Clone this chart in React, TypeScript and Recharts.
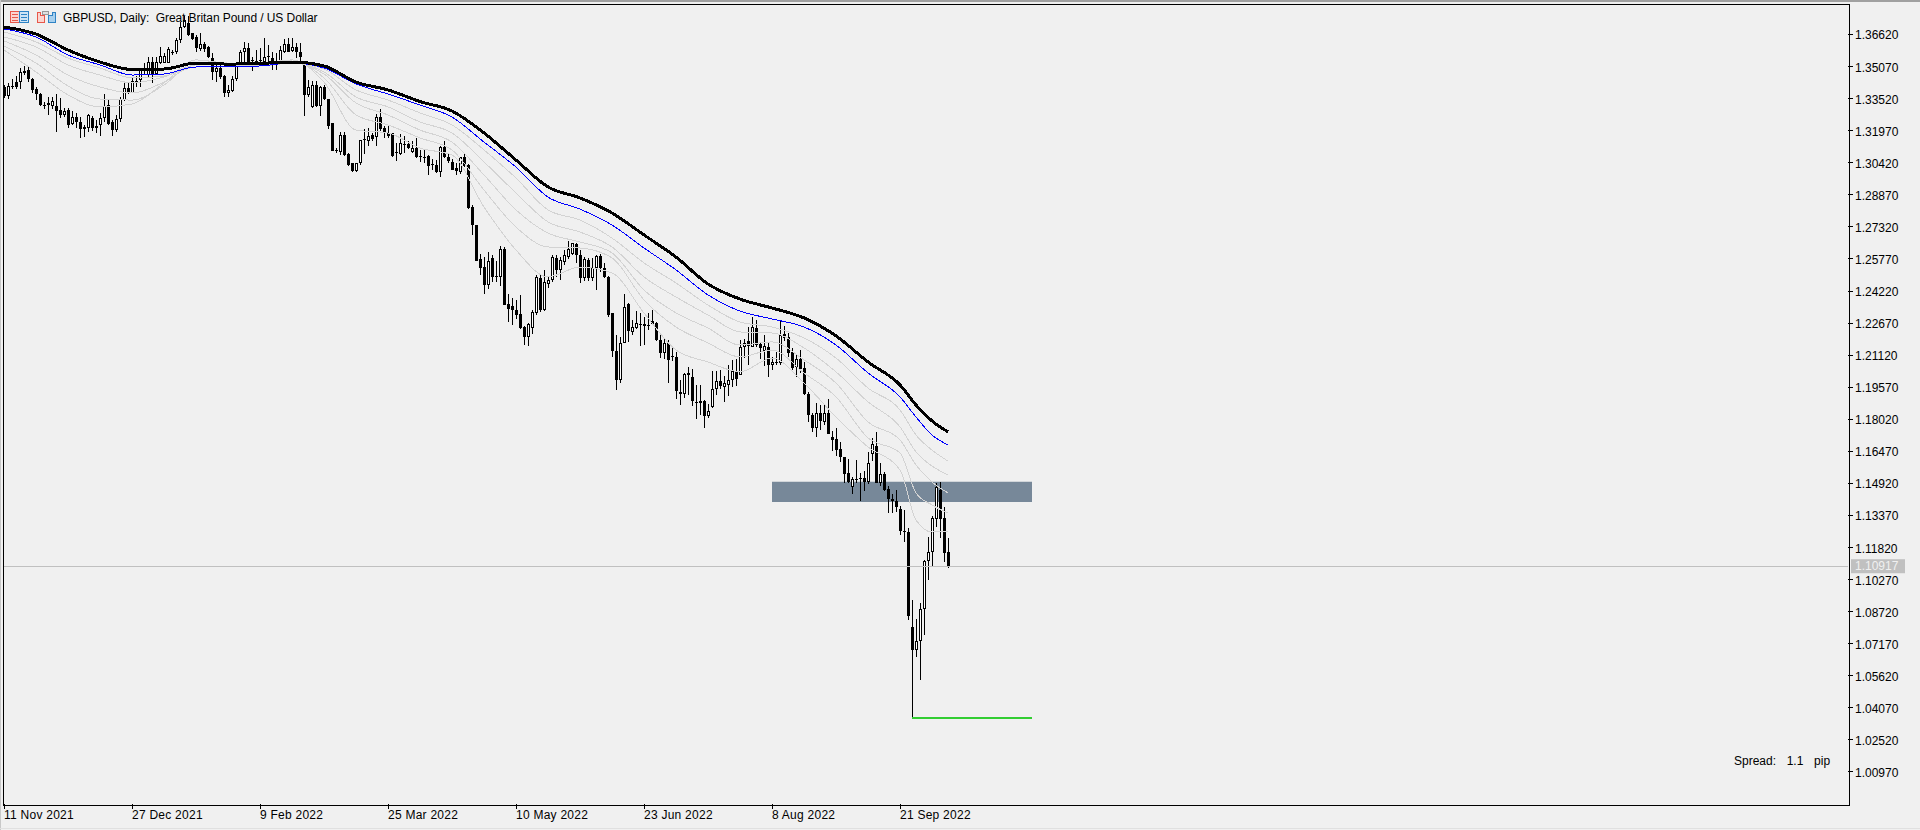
import React from "react";
import {
  ComposedChart,
  Bar,
  Line,
  XAxis,
  YAxis,
  ReferenceArea,
  ReferenceLine,
} from "recharts";

// Daily GBPUSD candles
const opens = [
  1.3407,1.3365,1.3410,1.3430,1.3430,1.3484,1.3488,1.3445,1.3397,1.3375,
  1.3323,1.3320,1.3317,1.3317,1.3298,1.3274,1.3298,1.3230,1.3262,1.3237,
  1.3204,1.3209,1.3258,1.3209,1.3224,1.3258,1.3320,1.3241,1.3201,1.3253,
  1.3346,1.3402,1.3381,1.3430,1.3443,1.3491,1.3467,1.3530,1.3472,1.3523,
  1.3526,1.3526,1.3575,1.3575,1.3633,1.3700,1.3716,1.3668,1.3649,1.3594,
  1.3616,1.3600,1.3547,1.3483,1.3499,1.3462,1.3378,1.3391,1.3446,1.3515,
  1.3576,1.3596,1.3536,1.3534,1.3536,1.3531,1.3555,1.3547,1.3531,1.3531,
  1.3578,1.3616,1.3584,1.3600,1.3579,1.3515,1.3370,1.3311,1.3418,1.3317,
  1.3410,1.3352,1.3233,1.3101,1.3092,1.3177,1.3085,1.3040,1.3000,1.3040,
  1.3154,1.3145,1.3177,1.3166,1.3265,1.3209,1.3188,1.3188,1.3091,1.3085,
  1.3133,1.3133,1.3092,1.3113,1.3072,1.3072,1.3076,1.3032,1.3032,1.2995,
  1.3117,1.3072,1.3048,1.3016,1.2995,1.3072,1.3032,1.2827,1.2742,1.2576,
  1.2537,1.2452,1.2581,1.2492,1.2492,1.2624,1.2360,1.2350,1.2331,1.2312,
  1.2247,1.2199,1.2243,1.2315,1.2486,1.2331,1.2457,1.2473,1.2581,1.2524,
  1.2560,1.2586,1.2602,1.2650,1.2598,1.2483,1.2573,1.2486,1.2531,1.2592,
  1.2531,1.2492,1.2315,1.2130,1.1993,1.2173,1.2360,1.2222,1.2244,1.2263,
  1.2263,1.2251,1.2276,1.2267,1.2186,1.2122,1.2170,1.2109,1.2103,1.1934,
  1.1922,1.2025,1.2005,1.1885,1.1889,1.1889,1.1820,1.1860,1.1947,1.1986,
  1.1960,1.1970,1.1992,1.2037,1.2018,1.2153,1.2182,1.2153,1.2242,1.2164,
  1.2134,1.2153,1.2066,1.2075,1.2073,1.2214,1.2198,1.2126,1.2053,1.2092,
  1.2048,1.1923,1.1823,1.1762,1.1831,1.1791,1.1831,1.1718,1.1706,1.1657,
  1.1619,1.1541,1.1474,1.1513,1.1515,1.1517,1.1500,1.1635,1.1675,1.1493,
  1.1538,1.1464,1.1416,1.1409,1.1367,1.1263,1.1256,1.0798,1.0685,1.0728,
  1.0884,1.1116,1.1160,1.1321,1.1461,1.1324,1.1160,
];

const highs = [
  1.3418,1.3426,1.3446,1.3459,1.3499,1.3510,1.3510,1.3452,1.3407,1.3378,
  1.3338,1.3359,1.3362,1.3375,1.3354,1.3306,1.3306,1.3290,1.3282,1.3262,
  1.3225,1.3278,1.3266,1.3249,1.3282,1.3375,1.3346,1.3249,1.3274,1.3362,
  1.3435,1.3426,1.3451,1.3462,1.3499,1.3523,1.3555,1.3555,1.3555,1.3600,
  1.3571,1.3600,1.3587,1.3644,1.3724,1.3749,1.3749,1.3671,1.3660,1.3668,
  1.3628,1.3604,1.3571,1.3515,1.3515,1.3467,1.3418,1.3462,1.3526,1.3587,
  1.3628,1.3620,1.3555,1.3587,1.3596,1.3644,1.3612,1.3579,1.3571,1.3604,
  1.3639,1.3644,1.3644,1.3620,1.3620,1.3515,1.3443,1.3435,1.3435,1.3414,
  1.3418,1.3352,1.3233,1.3113,1.3193,1.3193,1.3088,1.3040,1.3040,1.3153,
  1.3204,1.3209,1.3185,1.3278,1.3301,1.3220,1.3220,1.3188,1.3137,1.3182,
  1.3172,1.3145,1.3145,1.3161,1.3104,1.3104,1.3080,1.3059,1.3056,1.3121,
  1.3145,1.3085,1.3059,1.3040,1.3072,1.3091,1.3035,1.2838,1.2742,1.2602,
  1.2586,1.2613,1.2597,1.2569,1.2640,1.2637,1.2409,1.2388,1.2380,1.2404,
  1.2254,1.2267,1.2331,1.2500,1.2505,1.2524,1.2495,1.2597,1.2597,1.2586,
  1.2621,1.2666,1.2656,1.2656,1.2618,1.2586,1.2581,1.2581,1.2597,1.2602,
  1.2557,1.2495,1.2318,1.2210,1.2202,1.2407,1.2363,1.2283,1.2323,1.2315,
  1.2296,1.2315,1.2331,1.2270,1.2215,1.2194,1.2186,1.2154,1.2125,1.1992,
  1.2028,1.2054,1.2044,1.1968,1.1968,1.1896,1.1876,1.2033,1.2037,1.2040,
  1.2011,1.2065,1.2089,1.2092,1.2185,1.2189,1.2246,1.2295,1.2282,1.2177,
  1.2209,1.2169,1.2105,1.2129,1.2279,1.2253,1.2218,1.2148,1.2118,1.2137,
  1.2081,1.1936,1.1831,1.1879,1.1871,1.1871,1.1899,1.1743,1.1759,1.1694,
  1.1622,1.1609,1.1525,1.1606,1.1541,1.1553,1.1646,1.1710,1.1739,1.1590,
  1.1549,1.1480,1.1441,1.1461,1.1384,1.1364,1.1276,1.0929,1.0838,1.0913,
  1.1123,1.1232,1.1335,1.1493,1.1498,1.1380,1.1227,
];

const lows = [
  1.3354,1.3349,1.3397,1.3397,1.3397,1.3467,1.3435,1.3378,1.3343,1.3314,
  1.3306,1.3274,1.3306,1.3193,1.3258,1.3262,1.3209,1.3220,1.3209,1.3161,
  1.3169,1.3193,1.3193,1.3188,1.3169,1.3241,1.3225,1.3172,1.3193,1.3241,
  1.3338,1.3375,1.3378,1.3407,1.3407,1.3467,1.3459,1.3430,1.3467,1.3520,
  1.3523,1.3523,1.3563,1.3568,1.3623,1.3692,1.3652,1.3636,1.3579,1.3579,
  1.3579,1.3547,1.3439,1.3435,1.3446,1.3359,1.3359,1.3386,1.3439,1.3510,
  1.3531,1.3515,1.3488,1.3523,1.3523,1.3523,1.3526,1.3491,1.3488,1.3526,
  1.3571,1.3575,1.3575,1.3547,1.3531,1.3270,1.3362,1.3306,1.3311,1.3270,
  1.3346,1.3209,1.3101,1.3088,1.3080,1.3078,1.3027,1.2998,1.2998,1.3032,
  1.3085,1.3121,1.3145,1.3121,1.3193,1.3161,1.3161,1.3072,1.3048,1.3080,
  1.3092,1.3104,1.3085,1.3064,1.3048,1.3040,1.2984,1.3008,1.2992,1.2972,
  1.3064,1.3040,1.3005,1.2984,1.2992,1.3024,1.2819,1.2693,1.2569,1.2500,
  1.2409,1.2436,1.2468,1.2468,1.2447,1.2355,1.2275,1.2259,1.2286,1.2238,
  1.2162,1.2154,1.2215,1.2307,1.2323,1.2328,1.2436,1.2468,1.2492,1.2476,
  1.2549,1.2581,1.2597,1.2557,1.2457,1.2468,1.2468,1.2468,1.2428,1.2516,
  1.2484,1.2299,1.2106,1.1945,1.1980,1.2170,1.2173,1.2210,1.2235,1.2157,
  1.2162,1.2235,1.2259,1.2178,1.2098,1.2093,1.1977,1.2082,1.1896,1.1872,
  1.1909,1.1920,1.1864,1.1806,1.1823,1.1759,1.1806,1.1856,1.1920,1.1947,
  1.1887,1.1915,1.1960,1.1960,1.2016,1.2097,1.2060,1.2150,1.2153,1.2097,
  1.2060,1.2003,1.2044,1.2065,1.2065,1.2182,1.2102,1.2044,1.2008,1.2024,
  1.1920,1.1791,1.1738,1.1714,1.1751,1.1775,1.1731,1.1646,1.1622,1.1598,
  1.1496,1.1493,1.1441,1.1493,1.1404,1.1458,1.1493,1.1598,1.1493,1.1477,
  1.1458,1.1348,1.1351,1.1356,1.1243,1.1211,1.0833,1.0358,1.0653,1.0540,
  1.0760,1.1023,1.1087,1.1280,1.1227,1.1115,1.1084,
];

const closes = [
  1.3365,1.3414,1.3412,1.3407,1.3480,1.3478,1.3446,1.3394,1.3372,1.3322,
  1.3318,1.3330,1.3341,1.3291,1.3274,1.3294,1.3225,1.3262,1.3237,1.3204,
  1.3217,1.3272,1.3209,1.3220,1.3258,1.3317,1.3230,1.3201,1.3253,1.3349,
  1.3402,1.3381,1.3435,1.3436,1.3494,1.3499,1.3530,1.3472,1.3531,1.3559,
  1.3559,1.3591,1.3577,1.3636,1.3697,1.3732,1.3660,1.3639,1.3596,1.3616,
  1.3591,1.3555,1.3483,1.3502,1.3456,1.3381,1.3394,1.3446,1.3523,1.3579,
  1.3596,1.3523,1.3538,1.3533,1.3538,1.3555,1.3557,1.3531,1.3533,1.3587,
  1.3616,1.3579,1.3600,1.3576,1.3552,1.3370,1.3407,1.3418,1.3314,1.3407,
  1.3349,1.3220,1.3101,1.3103,1.3177,1.3080,1.3032,1.3000,1.3040,1.3153,
  1.3156,1.3172,1.3156,1.3265,1.3204,1.3185,1.3172,1.3075,1.3093,1.3137,
  1.3135,1.3113,1.3113,1.3069,1.3073,1.3071,1.3024,1.3034,1.2995,1.3116,
  1.3069,1.3050,1.3008,1.3000,1.3069,1.3027,1.2825,1.2739,1.2569,1.2534,
  1.2449,1.2566,1.2492,1.2494,1.2624,1.2355,1.2334,1.2328,1.2307,1.2243,
  1.2199,1.2262,1.2320,1.2492,1.2331,1.2465,1.2476,1.2586,1.2524,1.2573,
  1.2598,1.2624,1.2653,1.2598,1.2483,1.2578,1.2486,1.2532,1.2589,1.2532,
  1.2489,1.2307,1.2130,1.1993,1.2173,1.2347,1.2227,1.2247,1.2267,1.2264,
  1.2251,1.2260,1.2263,1.2183,1.2122,1.2173,1.2090,1.2103,1.1941,1.1922,
  1.2021,1.2017,1.1888,1.1887,1.1883,1.1820,1.1841,1.1947,1.1986,1.1963,
  1.1976,1.1992,1.2037,1.1995,1.2153,1.2172,1.2156,1.2246,1.2161,1.2148,
  1.2156,1.2065,1.2079,1.2077,1.2208,1.2193,1.2124,1.2048,1.2092,1.2047,
  1.1924,1.1823,1.1762,1.1831,1.1796,1.1831,1.1733,1.1702,1.1654,1.1619,
  1.1538,1.1498,1.1512,1.1515,1.1516,1.1501,1.1590,1.1681,1.1493,1.1538,
  1.1461,1.1417,1.1409,1.1380,1.1260,1.1255,1.0849,1.0685,1.0730,1.0884,
  1.1116,1.1160,1.1324,1.1474,1.1321,1.1158,1.10917,
];

// moving averages, read every 8th bar (a little tighter at the end)
const maBars = [
  0,8,16,24,32,40,48,56,64,72,80,88,96,104,112,120,128,136,144,152,160,168,176,184,192,200,208,216,224,228,232,236,
];
const maBlack = [
  1.3698,1.3664,1.3587,1.3529,1.3493,1.3495,1.3524,1.3519,1.3522,1.3529,1.3510,1.3432,1.3394,1.3338,1.3292,1.3186,
  1.3055,1.2925,1.2872,1.2799,1.2693,1.2586,1.2456,1.2383,1.2340,1.2292,1.2205,1.2079,1.1968,1.1871,1.1794,1.1741,
];
const maBlue = [
  1.3689,1.3650,1.3563,1.3515,1.3466,1.3471,1.3505,1.3505,1.3510,1.3524,1.3500,1.3423,1.3374,1.3321,1.3263,1.3142,
  1.3021,1.2876,1.2818,1.2741,1.2630,1.2524,1.2403,1.2325,1.2287,1.2248,1.2161,1.2026,1.1910,1.1813,1.1726,1.1678,
];
const maGrey1 = [
  1.3674,1.3626,1.3548,1.3500,1.3452,1.3461,1.3505,1.3510,1.3510,1.3524,1.3495,1.3394,1.3345,1.3283,1.3225,1.3104,
  1.2968,1.2814,1.2765,1.2678,1.2558,1.2461,1.2354,1.2272,1.2248,1.2195,1.2098,1.1953,1.1847,1.1726,1.1653,1.1600,
];
const maGrey2 = [
  1.3650,1.3602,1.3515,1.3466,1.3428,1.3457,1.3515,1.3515,1.3515,1.3524,1.3481,1.3360,1.3312,1.3239,1.3186,1.3046,
  1.2896,1.2756,1.2707,1.2635,1.2490,1.2393,1.2306,1.2224,1.2219,1.2147,1.2031,1.1886,1.1765,1.1644,1.1576,1.1533,
];
const maGrey3 = [
  1.3631,1.3563,1.3466,1.3408,1.3379,1.3432,1.3515,1.3519,1.3519,1.3529,1.3471,1.3331,1.3273,1.3200,1.3142,1.2983,
  1.2814,1.2702,1.2659,1.2606,1.2427,1.2316,1.2243,1.2161,1.2176,1.2089,1.1977,1.1789,1.1702,1.1581,1.1499,1.1446,
];
const maGrey4 = [
  1.3606,1.3524,1.3413,1.3350,1.3345,1.3418,1.3529,1.3524,1.3524,1.3534,1.3452,1.3273,1.3225,1.3162,1.3104,1.2910,
  1.2731,1.2635,1.2630,1.2582,1.2379,1.2248,1.2171,1.2103,1.2137,1.2026,1.1910,1.1712,1.1639,1.1446,1.1388,1.1349,
];
const maGrey5 = [
  1.3587,1.3481,1.3370,1.3312,1.3326,1.3428,1.3539,1.3524,1.3524,1.3539,1.3432,1.3200,1.3186,1.3113,1.3079,1.2828,
  1.2620,1.2490,1.2538,1.2509,1.2316,1.2137,1.2079,1.2031,1.2098,1.1977,1.1813,1.1668,1.1557,1.1315,1.1257,1.1262,
];

const priceTicks = [
  1.0097,1.0252,1.0407,1.0562,1.0717,1.0872,1.1027,1.1182,1.1337,1.1492,1.1647,1.1802,
  1.1957,1.2112,1.2267,1.2422,1.2577,1.2732,1.2887,1.3042,1.3197,1.3352,1.3507,1.3662,
];
const dateTicks = [0, 32, 64, 96, 128, 160, 192, 224];
const dateLabels = [
  "11 Nov 2021", "27 Dec 2021", "9 Feb 2022", "25 Mar 2022",
  "10 May 2022", "23 Jun 2022", "8 Aug 2022", "21 Sep 2022",
];

const lastPrice = 1.10917;
const lowPrice = 1.0358;
const zoneTop = 1.15;
const zoneBottom = 1.1402;
const priceMin = 0.99423;
const priceMax = 1.38094;
const slotCount = 461;

const rows = opens.map((open, i) => {
  const m = maBars.indexOf(i);
  return {
    i,
    open,
    high: highs[i],
    low: lows[i],
    close: closes[i],
    range: [lows[i], highs[i]],
    black: m >= 0 ? maBlack[m] : null,
    blue: m >= 0 ? maBlue[m] : null,
    grey1: m >= 0 ? maGrey1[m] : null,
    grey2: m >= 0 ? maGrey2[m] : null,
    grey3: m >= 0 ? maGrey3[m] : null,
    grey4: m >= 0 ? maGrey4[m] : null,
    grey5: m >= 0 ? maGrey5[m] : null,
  };
});

const FONT = '"Liberation Sans", Arial, sans-serif';
const GREY_LINES = ["grey5", "grey4", "grey3", "grey2", "grey1"];

// wick + body, worked out from the low-high range the Bar already scaled
const Candle = (props: any) => {
  const { x, y, width, height, payload } = props;
  if (!payload || !height) return null;
  const cx = Math.round(x + width / 2);
  const perUnit = height / (payload.high - payload.low);
  const toY = (p: number) => y + (payload.high - p) * perUnit;
  const top = Math.round(toY(Math.max(payload.open, payload.close)));
  const bottom = Math.round(toY(Math.min(payload.open, payload.close)));
  const bodyH = Math.max(bottom - top, 1);
  const up = payload.close > payload.open;
  return (
    <g shapeRendering="crispEdges">
      <rect x={cx} y={Math.round(y)} width={1} height={Math.round(height)} fill="#000" />
      <rect x={cx - 1} y={top} width={3} height={bodyH} fill="#000" />
      {up && bodyH > 2 ? <rect x={cx} y={top + 1} width={1} height={bodyH - 2} fill="#fff" /> : null}
    </g>
  );
};

const DateTick = (props: any) => {
  const { x, y, index } = props;
  return (
    <text x={x} y={y + 8} fontSize={12} letterSpacing={0.25} fontFamily={FONT} fill="#000" textAnchor="start">
      {dateLabels[index]}
    </text>
  );
};

const PriceTick = (props: any) => {
  const { x, y, payload } = props;
  return (
    <text x={x} y={y + 5} fontSize={12} fontFamily={FONT} fill="#000" textAnchor="start">
      {payload.value.toFixed(5)}
    </text>
  );
};

const PriceBadge = (props: any) => {
  const { viewBox } = props;
  const right = viewBox.x + viewBox.width;
  return (
    <g>
      <rect x={right + 3} y={viewBox.y - 7} width={54} height={14} fill="#c0c0c0" />
      <text x={right + 7} y={viewBox.y + 4} fontSize={12} fontFamily={FONT} fill="#f0f0f0">
        {lastPrice.toFixed(5)}
      </text>
    </g>
  );
};

const Icons = () => (
  <svg width={50} height={14} style={{ position: "absolute", left: 9, top: 10 }} shapeRendering="crispEdges">
    <rect x={1.5} y={1.5} width={9} height={11} fill="#fbd5d0" stroke="#e8574a" />
    <rect x={10.5} y={1.5} width={9} height={11} fill="#cfe4f5" stroke="#2f83c5" />
    <path d="M3 4.5h6M3 7.5h6M3 10.5h6" stroke="#e8574a" />
    <path d="M12 4.5h6M12 7.5h6M12 10.5h6" stroke="#2f83c5" />
    <path d="M28.5 2.5h3v3h4v7h-7z" fill="#fbd5d0" stroke="#e8574a" />
    <path d="M40.5 5.5h3v-3h3v10h-7v-7z" fill="#a8d0ee" stroke="#2f83c5" />
    <rect x={33.5} y={1.5} width={6} height={3} fill="#e0e0e0" stroke="#999" />
  </svg>
);

export default function App() {
  return (
    <div
      style={{
        position: "fixed",
        left: 0,
        top: 0,
        width: 1920,
        height: 830,
        background: "#f0f0f0",
        overflow: "hidden",
        fontFamily: FONT,
      }}
    >
      <ComposedChart
        width={1920}
        height={830}
        data={rows}
        margin={{ top: 4, right: 0, bottom: 0, left: 4 }}
      >
        <XAxis
          dataKey="i"
          type="number"
          domain={[0, slotCount]}
          ticks={dateTicks}
          interval={0}
          height={26}
          axisLine={false}
          tickSize={5}
          tickLine={{ stroke: "#000", shapeRendering: "crispEdges" }}
          tick={<DateTick />}
        />
        <YAxis
          orientation="right"
          type="number"
          domain={[priceMin, priceMax]}
          allowDataOverflow
          ticks={priceTicks}
          interval={0}
          width={72}
          axisLine={false}
          tickSize={5}
          tickMargin={2}
          tickLine={{ stroke: "#000", shapeRendering: "crispEdges" }}
          tick={<PriceTick />}
        />
        <ReferenceArea
          x1={192}
          x2={257}
          y1={zoneBottom}
          y2={zoneTop}
          fill="#778899"
          fillOpacity={1}
          stroke="none"
        />
        <ReferenceLine
          y={lastPrice}
          stroke="#c0c0c0"
          shapeRendering="crispEdges"
          label={<PriceBadge />}
        />
        <ReferenceLine
          segment={[
            { x: 227, y: lowPrice },
            { x: 257, y: lowPrice },
          ]}
          stroke="#32cd32"
          strokeWidth={2}
          shapeRendering="crispEdges"
        />
        <Bar dataKey="range" barSize={3} shape={<Candle />} isAnimationActive={false} />
        {GREY_LINES.map((key) => (
          <Line
            key={key}
            dataKey={key}
            type="monotone"
            stroke="#d3d3d3"
            strokeWidth={1}
            shapeRendering="crispEdges"
            dot={false}
            connectNulls
            isAnimationActive={false}
          />
        ))}
        <Line dataKey="blue" type="monotone" stroke="#0000ff" strokeWidth={1} shapeRendering="crispEdges" dot={false} connectNulls isAnimationActive={false} />
        <Line dataKey="black" type="monotone" stroke="#000" strokeWidth={3} shapeRendering="crispEdges" dot={false} connectNulls isAnimationActive={false} />
      </ComposedChart>

      {/* window chrome and the on-chart captions */}
      <div style={{ position: "absolute", left: 0, top: 0, width: 1920, height: 2, background: "#a0a0a0" }} />
      <div style={{ position: "absolute", left: 0, top: 0, width: 1, height: 830, background: "#c8c8c8" }} />
      <div style={{ position: "absolute", left: 0, top: 828, width: 1920, height: 1, background: "#e0e0e0" }} />
      <div
        style={{
          position: "absolute",
          left: 3,
          top: 4,
          width: 1845,
          height: 800,
          border: "1px solid #000",
          pointerEvents: "none",
        }}
      />
      <Icons />
      <div style={{ position: "absolute", left: 63, top: 11, fontSize: 12, lineHeight: "15px", letterSpacing: -0.08, color: "#000", whiteSpace: "pre" }}>
        {"GBPUSD, Daily:  Great Britan Pound / US Dollar"}
      </div>
      <div style={{ position: "absolute", left: 1734, top: 754, fontSize: 12, lineHeight: "15px", wordSpacing: 2, color: "#000", whiteSpace: "pre" }}>
        {"Spread:  1.1  pip"}
      </div>
    </div>
  );
}
